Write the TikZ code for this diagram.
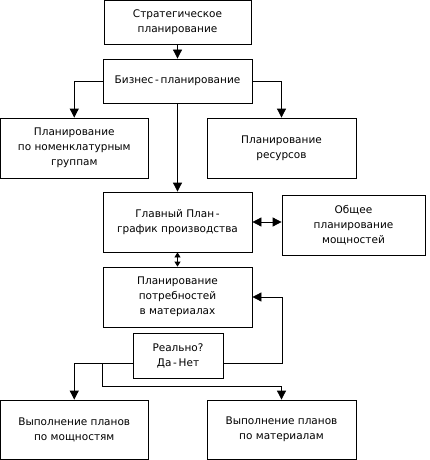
\documentclass[tikz,border=0pt]{standalone}
\usepackage{fontspec}
\setmainfont{DejaVu Sans}
\usetikzlibrary{arrows.meta}
\begin{document}
\begin{tikzpicture}[x=1pt,y=-1pt,
  box/.style={draw, line width=0.8pt, align=center, inner sep=0pt,
    font=\fontsize{10.5}{15}\selectfont},
  conn/.style={line width=0.8pt},
  arr/.style={conn, -{Triangle[length=9pt,width=9pt]}},
  darr/.style={conn, {Triangle[length=9pt,width=9pt]}-{Triangle[length=9pt,width=9pt]}},
  sarr/.style={conn, {Triangle[length=5pt,width=6pt]}-{Triangle[length=5pt,width=6pt]}}]
\useasboundingbox (0,0) rectangle (430,460);
\node[box, minimum width=147pt, minimum height=43.5pt] (s1) at (177.5,22.25) {Стратегическое\\планирование};
\node[box, minimum width=149pt, minimum height=44pt] (s2) at (177.5,81) {Бизнес\,-\,планирование};
\node[box, minimum width=147.5pt, minimum height=60pt] (s3) at (74.25,148) {Планирование\\по номенклатурным\\группам};
\node[box, minimum width=149pt, minimum height=60pt] (s4) at (281.5,148) {Планирование\\ресурсов};
\node[box, minimum width=149pt, minimum height=60pt] (s5) at (177.5,222) {Главный План\,-\\график производства};
\node[box, minimum width=143pt, minimum height=60pt] (s6) at (353.5,225) {Общее\\планирование\\мощностей};
\node[box, minimum width=149pt, minimum height=60pt] (s7) at (177.5,297) {Планирование\\потребностей\\в материалах};
\node[box, minimum width=90pt, minimum height=45pt] (s8) at (178,355.5) {Реально?\\Да\,-\,Нет};
\node[box, minimum width=147.5pt, minimum height=59pt] (s9) at (74.25,429.5) {Выполнение планов\\по мощностям};
\node[box, minimum width=149pt, minimum height=59pt] (s10) at (281.5,429.5) {Выполнение планов\\по материалам};
\coordinate (r) at (282,363);
\coordinate (b) at (102,386);
\draw[arr] (s1) -- (s2);
\draw[arr] (s2.west) -| (s3.north);
\draw[arr] (s2.east) -| (s4.north);
\draw[arr] (s2) -- (s5);
\draw[darr] (s5.east) -- (s5.east -| s6.west);
\draw[sarr] (s5) -- (s7);
\draw[arr] (s8.east |- r) -- (r) |- (s7.east);
\draw[arr] (s8.west |- r) -| (s9.north);
\draw[arr] (b |- r) -- (b) -| (s10.north);
\end{tikzpicture}
\end{document}
